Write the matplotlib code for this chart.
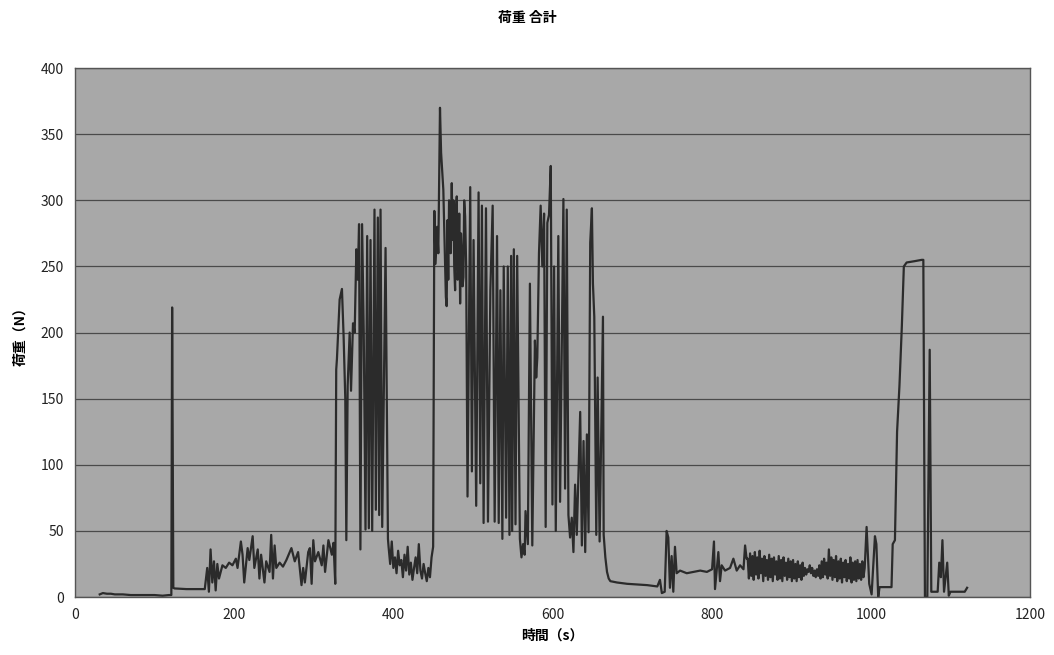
import matplotlib
matplotlib.use("Agg")
import matplotlib.pyplot as plt
import numpy as np

plt.rcParams["font.family"] = ["Noto Sans CJK JP", "DejaVu Sans"]

# idle at start, single spike, flat
idle_t = [31, 35, 40, 45, 50, 60, 70, 80, 90, 100, 110, 118, 121,
          122, 123.5, 125, 140, 155, 163]
idle_v = [2, 3, 2.5, 2.5, 2, 2, 1.5, 1.5, 1.5, 1.5, 1, 1.5, 1.5,
          219, 7, 6.5, 6, 6, 6]

# low noisy phase
warm_t = [166.1, 168.2, 170.3, 172.5, 174.6, 176.7, 178.8, 180.9, 185.2, 189.4,
          193.6, 197.8, 202.1, 204.2, 208.4, 210.5, 212.6, 216.9, 219, 223.2,
          225.3, 229.6, 231.7, 233.8, 238, 240.2, 244.4, 246.5, 248.7, 250.8,
          252.9, 257.1, 261.3, 265.6, 271.9, 276.1, 280.3, 284.6, 286.7, 288.8,
          293, 295.1, 297.3, 299.4, 301.5, 305.7, 310, 312.1, 314.2, 318.4,
          322.7, 324.8, 326, 327]
warm_v = [22, 4, 36, 11, 27, 5, 25, 14, 24, 22,
          26, 24, 29, 22, 42, 32, 11, 37, 28, 46,
          22, 36, 14, 32, 11, 27, 19, 47, 14, 39,
          22, 26, 23, 28, 37, 27, 34, 9, 22, 11,
          34, 37, 10, 43, 27, 34, 24, 39, 19, 43,
          32, 41, 25, 10]

# first burst
burst1_t = [328.2, 329.1, 332.5, 335.4, 337.5, 339.6, 340.9, 342.6, 345.1, 346.8,
            349.3, 351.4, 353.5, 355.2, 356.9, 358.6, 360.7, 362.8, 365, 367.1,
            369.2, 371.3, 373.4, 376.3, 378, 380.5, 382.2, 383.9, 386, 390.2,
            393.2]
burst1_v = [172, 180, 225, 233, 197, 150, 43, 160, 200, 156,
            207, 200, 263, 240, 282, 36, 282, 200, 51, 273,
            52, 270, 50, 293, 66, 287, 62, 293, 53, 264,
            44]

# rest between bursts
rest_t = [394, 396, 398, 400, 402, 404, 406, 408, 410, 412, 414, 416, 418, 420,
          422, 424, 426, 428, 430, 432, 434, 436, 438, 440, 442, 444, 446, 448, 450]
rest_v = [38, 25, 42, 22, 30, 18, 35, 24, 28, 15, 32, 20, 38, 17,
          26, 13, 22, 30, 18, 40, 20, 14, 25, 18, 12, 22, 15, 30, 38]

# second burst
burst2_t = [451.5, 453, 455, 456.5, 458.6, 460, 462.8, 464.9, 466, 467, 468, 469,
            470, 471.2, 472, 473.4, 474.5, 475.5, 476.5, 477.6, 478.6, 479.7,
            480.8, 481.8, 482.8, 483.9, 485, 486.1, 487, 488.1, 489, 490.2, 491.5,
            493.2,
            496.6, 498.7, 500.8, 504.1, 507.1, 509.2, 511.3, 513.4, 516.4, 518.9,
            521.9, 524.8, 527.3, 530.3, 532.4, 534.5, 537, 538.7, 541.7, 543.8,
            545.9, 548, 549.3, 551.4, 553.5, 555.6, 559, 561, 563, 565, 566.1,
            569, 571.6, 574.6, 577.9, 579.5, 580.9, 583, 585.1, 587.2, 589.4,
            591.4, 593.5, 595.6, 597.8, 599.9, 602, 604.1, 607.3, 609.5, 613.7,
            615.8, 617.9, 620, 622.1, 624.2, 626.3, 628.4, 630.5, 634.8, 636.9,
            639, 641.1, 643.2, 645.3, 647.4, 649.5, 650.8, 652.5, 655, 656.7,
            659.2, 663.4, 664.3, 666.4, 668.5, 670.6, 672.7]
burst2_v = [292, 252, 280, 260, 370, 336, 308, 255, 227, 220, 285, 240,
            300, 298, 260, 313, 270, 300, 250, 232, 290, 303,
            240, 250, 290, 222, 275, 260, 235, 242, 300, 288, 250,
            76,
            310, 95, 270, 69, 306, 86, 296, 56, 294, 57,
            232, 296, 57, 273, 56, 232, 44, 250, 60, 250,
            47, 258, 50, 263, 55, 258, 44, 30, 40, 32, 65,
            40, 237, 39, 194, 166, 181, 260, 296, 250, 290,
            53, 283, 289, 326, 70, 250, 50, 273, 72, 301,
            82, 293, 62, 45, 60, 34, 85, 47, 140, 39,
            118, 34, 123, 49, 268, 294, 237, 212, 47, 166,
            42, 212, 47, 30, 19, 14, 12]

# slow decay and steady phase
steady_t = [681, 693.8, 706.4, 719, 731.7, 735, 737.4, 741, 743.4, 745.5, 747.6,
            749.7, 751.8, 753.9, 756, 760.3, 768.7, 777.2, 785.6, 794, 800.5,
            802.9, 804.2, 808.4, 810.5, 812.6, 816.8, 823.1, 827.3, 831.5, 835.7,
            840, 842, 843.9]
steady_v = [11, 10, 9.5, 9, 8, 13, 3, 4, 50, 45, 7,
            31, 4, 38, 18, 20, 18, 19, 20, 19, 21,
            42, 6, 34, 12, 24, 20, 22, 29, 20, 24,
            21, 39, 29]

# dense oscillating band
band_t = [845.3, 846.8, 848.3, 849.8, 851.3, 852.8, 854.3, 855.8, 857.3, 858.8,
          860.3, 861.8, 863.3, 864.8, 866.3, 867.8, 869.3, 870.8, 872.3, 873.8,
          875.3, 876.8, 878.3, 879.8, 881.3, 882.8, 884.3, 885.8, 887.3, 888.8,
          890.3, 891.8, 893.3, 894.8, 896.3, 897.8, 899.3, 900.8, 902.3, 903.8,
          905.3, 906.8, 908.3, 909.8, 911.3, 912.8, 914.3, 915.8, 917.3, 918.8,
          920.3, 921.8, 923.3, 924.8, 926.3, 927.8, 929.3, 930.8, 932.3, 933.8,
          935.3, 936.8, 938.3, 939.8, 941.3, 942.8, 944.3, 945.8, 947.3, 948.8,
          950.3, 951.8, 953.3, 954.8, 956.3, 957.8, 959.3, 960.8, 962.3, 963.8,
          965.3, 966.8, 968.3, 969.8, 971.3, 972.8, 974.3, 975.8, 977.3, 978.8,
          980.3, 981.8, 983.3, 984.8, 986.3, 987.8, 989.3, 990.8, 992.3]
band_v = [29, 14, 33, 16, 31, 13, 34, 17, 30, 14,
          35, 18, 29, 12, 31, 16, 28, 13, 32, 15,
          29, 12, 30, 17, 27, 13, 31, 14, 28, 12,
          30, 16, 26, 13, 29, 15, 27, 12, 28, 14,
          25, 12, 27, 15, 24, 13, 26, 16, 22, 17,
          21, 19, 24, 18, 22, 16, 20, 15, 21, 16,
          24, 14, 27, 15, 29, 17, 26, 14, 36, 16,
          30, 13, 28, 15, 31, 12, 27, 14, 29, 11,
          26, 15, 28, 12, 25, 14, 30, 11, 26, 13,
          27, 12, 28, 14, 25, 13, 27, 15, 22]

# end: plateau, drop, small spikes
final_t = [994.7, 998, 1001, 1005.2, 1007, 1009.3, 1011, 1026, 1027.5, 1030.3,
           1033, 1036, 1039, 1041.5, 1045, 1055, 1064, 1066, 1068, 1071,
           1074, 1076, 1084, 1086, 1088, 1090, 1092, 1096, 1098, 1100,
           1118, 1121]
final_v = [53, 10, 2, 46, 40, 0, 7.5, 7.5, 40, 43,
           125, 160, 205, 250, 253, 254, 255, 255, 0, 0,
           187, 4, 4, 26, 15, 43, 4, 26, 1, 4,
           4, 7]

time_s = np.array(idle_t + warm_t + burst1_t + rest_t + burst2_t
                  + steady_t + band_t + final_t)
load_n = np.array(idle_v + warm_v + burst1_v + rest_v + burst2_v
                  + steady_v + band_v + final_v)

fig = plt.figure(figsize=(10.54, 6.55), dpi=100)
ax = fig.add_axes([0.0712, 0.0885, 0.9060, 0.8075])
ax.set_facecolor("#a8a8a8")

ax.plot(time_s, load_n, color="#2b2b2b", linewidth=1.6)

ax.set_xlim(0, 1200)
ax.set_ylim(0, 400)
ax.set_xticks(np.arange(0, 1201, 200))
ax.set_yticks(np.arange(0, 401, 50))
ax.yaxis.grid(True, color="#4a4a4a", linewidth=0.9)
ax.set_axisbelow(True)
ax.tick_params(length=0, labelsize=10, colors="#222222", pad=8)
for s in ax.spines.values():
    s.set_color("#555555")
    s.set_linewidth(1.0)

ax.set_xlabel("時間（s）", fontsize=10, fontweight="bold", labelpad=5)
ax.set_ylabel("荷重（N）", fontsize=10, fontweight="bold", labelpad=10)
fig.text(0.5, 0.972, "荷重 合計", ha="center", va="center",
         fontsize=10, fontweight="bold")

fig.savefig("out.png", dpi=100, facecolor="white")
